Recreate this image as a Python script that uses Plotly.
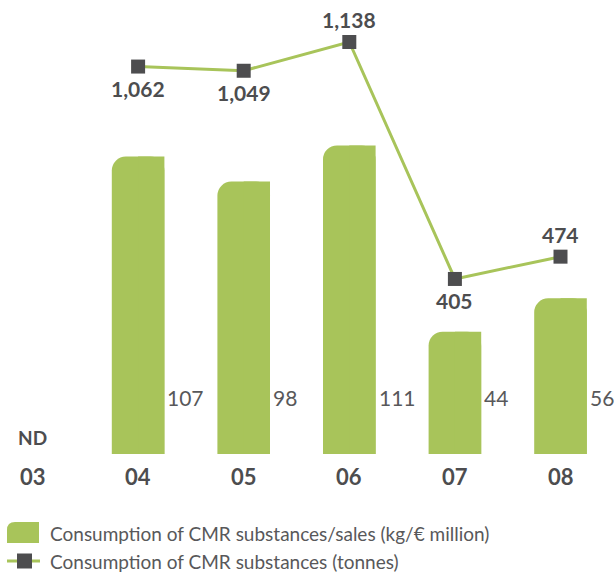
import plotly.graph_objects as go

# ---- data -------------------------------------------------------------
years = ["03", "04", "05", "06", "07", "08"]
ratio_values = [None, 107, 98, 111, 44, 56]          # kg / € million
tonnes_values = [None, 1062, 1049, 1138, 405, 474]   # tonnes
tonnes_labels = ["", "1,062", "1,049", "1,138", "405", "474"]
tonnes_label_side = ["", "below", "below", "above", "below", "above"]
missing_label = "ND"
legend_ratio = "Consumption of CMR substances/sales (kg/€ million)"
legend_tonnes = "Consumption of CMR substances (tonnes)"

# ---- layout constants (pixels) ---------------------------------------
W, H = 614, 574
X0_PX, X_STEP_PX = 32.5, 105.6          # centre of first category, spacing
BAR_W_PX = 52.6
BAR_BASE_PX, BAR_PX_PER_UNIT = 454.0, 2.78
LINE_ZERO_PX, LINE_PX_PER_UNIT = 409.9, 0.3233

GREEN = "#a8c45a"
DARK = "#4d4d4f"
GREY = "#58585a"
FONT = "Lato"

x_pos = list(range(len(years)))
bar_w = BAR_W_PX / X_STEP_PX

x_range = [(0 - X0_PX) / X_STEP_PX, (W - X0_PX) / X_STEP_PX]
y_range = [-(H - BAR_BASE_PX) / BAR_PX_PER_UNIT, BAR_BASE_PX / BAR_PX_PER_UNIT]
y2_range = [-(H - LINE_ZERO_PX) / LINE_PX_PER_UNIT, LINE_ZERO_PX / LINE_PX_PER_UNIT]

bx = [x for x, v in zip(x_pos, ratio_values) if v is not None]
by = [v for v in ratio_values if v is not None]

fig = go.Figure()

# bars: rounded top corners, right half squared off so only top-left is round
fig.add_trace(go.Bar(
    x=bx, y=by, width=bar_w, offset=-bar_w / 2,
    marker=dict(color=GREEN, line=dict(width=0), cornerradius=14),
    showlegend=False, hoverinfo="skip",
))
fig.add_trace(go.Bar(
    x=bx, y=by, width=bar_w / 2, offset=0,
    marker=dict(color=GREEN, line=dict(width=0)),
    showlegend=False, hoverinfo="skip",
))

lx = [x for x, v in zip(x_pos, tonnes_values) if v is not None]
ly = [v for v in tonnes_values if v is not None]
fig.add_trace(go.Scatter(
    x=lx, y=ly, yaxis="y2", mode="lines+markers",
    line=dict(color=GREEN, width=3),
    marker=dict(symbol="square", size=14, color=DARK),
    showlegend=False, hoverinfo="skip",
))

annotations = []

# value labels beside bars
for x, v in zip(x_pos, ratio_values):
    if v is None:
        continue
    annotations.append(dict(
        x=x, y=0, xref="x", yref="y", text=str(v), showarrow=False,
        xanchor="left", yanchor="middle", xshift=BAR_W_PX / 2 + 1, yshift=57,
        font=dict(family=FONT, size=21, color=GREY),
    ))

# value labels on the line
for x, v, t, side in zip(x_pos, tonnes_values, tonnes_labels, tonnes_label_side):
    if v is None:
        continue
    annotations.append(dict(
        x=x, y=v, xref="x", yref="y2", text=f"<b>{t}</b>", showarrow=False,
        xanchor="center", yanchor="middle", yshift=22 if side == "above" else -22,
        font=dict(family=FONT, size=21, color=DARK),
    ))

# category labels and the "not disclosed" marker
for x, yr in zip(x_pos, years):
    annotations.append(dict(
        x=x, y=1 - 476 / H, xref="x", yref="paper", text=f"<b>{yr}</b>",
        showarrow=False, xanchor="center", yanchor="middle",
        font=dict(family=FONT, size=22, color=DARK),
    ))
for x, v in zip(x_pos, ratio_values):
    if v is None:
        annotations.append(dict(
            x=x, y=1 - 438 / H, xref="x", yref="paper", text=f"<b>{missing_label}</b>",
            showarrow=False, xanchor="center", yanchor="middle",
            font=dict(family=FONT, size=19, color=DARK),
        ))

# legend
def px(xp):
    return xp / W

def py(yp):
    return 1 - yp / H

for text, ycen in ((legend_ratio, 533), (legend_tonnes, 561)):
    annotations.append(dict(
        x=px(48), y=py(ycen), xref="paper", yref="paper", text=text,
        showarrow=False, xanchor="left", yanchor="middle",
        font=dict(family=FONT, size=19, color=GREY),
    ))

l, r, t, b, rad = 7, 39, 522, 543, 8
icon_path = (
    f"M {px(l)} {py(b)} L {px(l)} {py(t + rad)} "
    f"Q {px(l)} {py(t)} {px(l + rad)} {py(t)} "
    f"L {px(r)} {py(t)} L {px(r)} {py(b)} Z"
)
shapes = [
    dict(type="path", xref="paper", yref="paper", path=icon_path,
         fillcolor=GREEN, line=dict(width=0)),
    dict(type="line", xref="paper", yref="paper", x0=px(7), x1=px(40),
         y0=py(561), y1=py(561), line=dict(color=GREEN, width=3)),
    dict(type="rect", xref="paper", yref="paper", x0=px(17), x1=px(32),
         y0=py(568.5), y1=py(553.5), fillcolor=DARK, line=dict(width=0)),
]

fig.update_layout(
    width=W, height=H,
    margin=dict(l=0, r=0, t=0, b=0, pad=0),
    paper_bgcolor="white", plot_bgcolor="white",
    barmode="overlay",
    xaxis=dict(range=x_range, visible=False, fixedrange=True),
    yaxis=dict(range=y_range, visible=False, fixedrange=True),
    yaxis2=dict(range=y2_range, visible=False, overlaying="y", fixedrange=True),
    annotations=annotations,
    shapes=shapes,
    showlegend=False,
)

fig.write_html("out.html")
